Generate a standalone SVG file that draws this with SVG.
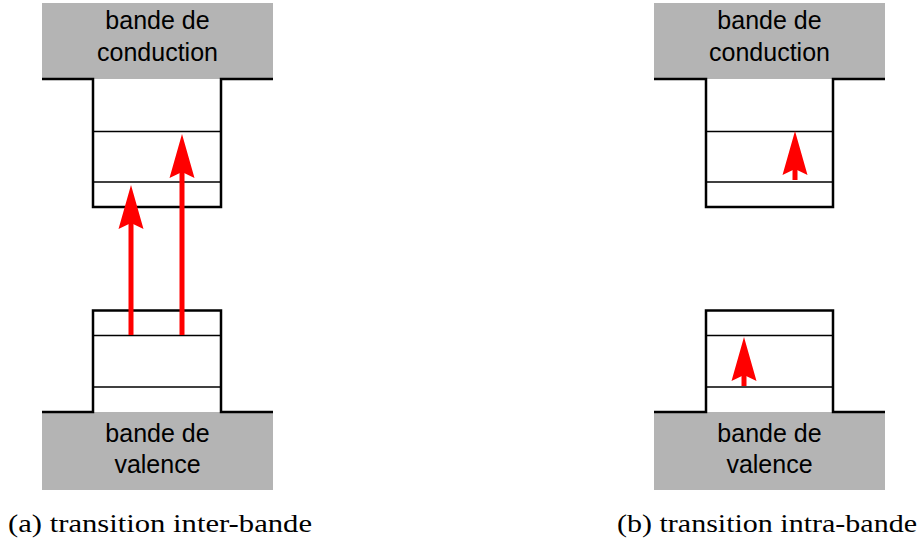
<svg xmlns="http://www.w3.org/2000/svg" width="924" height="548" viewBox="0 0 924 548">
<style>
.band{fill:#b4b4b4}
.outline{fill:none;stroke:#000;stroke-width:2.5}
.level{stroke:#000;stroke-width:1.5}
.lbl{font-family:"Liberation Sans",Arial,sans-serif;font-size:25px;fill:#000;text-anchor:middle}
.cap{font-family:"Liberation Serif","Times New Roman",serif;font-size:25px;fill:#000}
.arr{stroke:#ff0000;stroke-width:5;fill:none;marker-end:url(#head)}
</style>
<defs>
<marker id="head" markerUnits="userSpaceOnUse" markerWidth="46" markerHeight="28" viewBox="0 0 46 28" refX="6" refY="13" orient="auto">
<path d="M0,0.5 L44,13 L0,25.5 L6,13 Z" fill="#ff0000"/>
</marker>
</defs>
<g id="panel-a-conduction">
<rect class="band" x="42" y="3" width="231" height="76"/>
<rect x="93" y="79" width="128" height="128" fill="#fff"/>
<line class="level" x1="93" y1="131.5" x2="221" y2="131.5"/>
<line class="level" x1="93" y1="182" x2="221" y2="182"/>
<path class="outline" d="M42,79 H93 V207 H221 V79 H273"/>
<text class="lbl" x="157.5" y="29">bande de</text>
<text class="lbl" x="157.5" y="61">conduction</text>
</g>
<g id="panel-a-valence">
<rect class="band" x="42" y="412" width="231" height="78"/>
<line class="level" x1="93" y1="335.5" x2="221" y2="335.5"/>
<line class="level" x1="93" y1="387" x2="221" y2="387"/>
<path class="outline" d="M42,412 H93 V310.5 H221 V412 H273"/>
<text class="lbl" x="157.5" y="442">bande de</text>
<text class="lbl" x="157.5" y="473">valence</text>
</g>
<g id="panel-b-conduction">
<rect class="band" x="654" y="3" width="231" height="76"/>
<line class="level" x1="706" y1="131.5" x2="833" y2="131.5"/>
<line class="level" x1="706" y1="182" x2="833" y2="182"/>
<path class="outline" d="M654,79 H706 V207 H833 V79 H885"/>
<text class="lbl" x="769.5" y="29">bande de</text>
<text class="lbl" x="769.5" y="61">conduction</text>
</g>
<g id="panel-b-valence">
<rect class="band" x="654" y="412" width="231" height="78"/>
<line class="level" x1="706" y1="335.5" x2="833" y2="335.5"/>
<line class="level" x1="706" y1="387" x2="833" y2="387"/>
<path class="outline" d="M654,412 H706 V310.5 H833 V412 H885"/>
<text class="lbl" x="769.5" y="442">bande de</text>
<text class="lbl" x="769.5" y="473">valence</text>
</g>
<g id="connectors">
<line class="arr" x1="131" y1="335" x2="131" y2="223"/>
<line class="arr" x1="182" y1="335" x2="182" y2="172"/>
<line class="arr" x1="795" y1="180" x2="795" y2="169"/>
<line class="arr" x1="744" y1="386" x2="744" y2="375"/>
</g>
<g id="captions">
<text class="cap" x="8" y="532" textLength="304" lengthAdjust="spacingAndGlyphs">(a) transition inter-bande</text>
<text class="cap" x="617" y="532" textLength="300" lengthAdjust="spacingAndGlyphs">(b) transition intra-bande</text>
</g>
</svg>
